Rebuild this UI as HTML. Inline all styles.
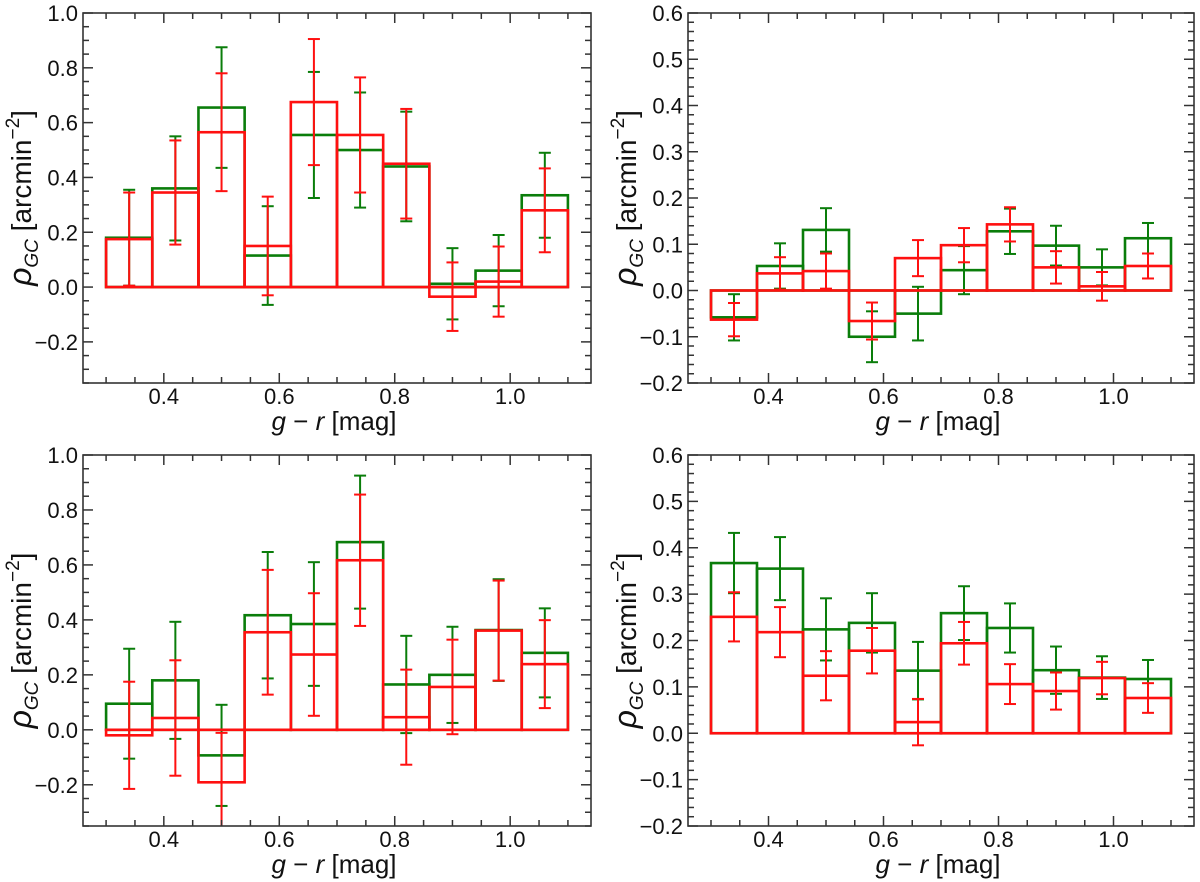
<!DOCTYPE html>
<html><head><meta charset="utf-8">
<style>
html,body{margin:0;padding:0;background:#fff;}
svg{display:block;font-family:"Liberation Sans",sans-serif;}
</style></head>
<body>
<svg id="fig" width="1200" height="882" viewBox="0 0 1200 882" xmlns="http://www.w3.org/2000/svg"></svg>
<script>
// ---- data ----
const binEdges = [0.30,0.38,0.46,0.54,0.62,0.70,0.78,0.86,0.94,1.02,1.10];
const binCenters = [0.34,0.42,0.50,0.58,0.66,0.74,0.82,0.90,0.98,1.06];

const tlGreen = [0.18,0.36,0.655,0.115,0.555,0.50,0.44,0.012,0.06,0.335];
const tlGreenErr = [0.175,0.19,0.22,0.18,0.23,0.21,0.20,0.13,0.13,0.155];
const tlRed = [0.175,0.345,0.565,0.15,0.675,0.555,0.45,-0.035,0.02,0.28];
const tlRedErr = [0.17,0.19,0.215,0.18,0.23,0.21,0.20,0.125,0.128,0.153];

const trGreen = [-0.058,0.053,0.131,-0.10,-0.05,0.044,0.128,0.097,0.05,0.113];
const trGreenErr = [0.05,0.049,0.047,0.055,0.058,0.052,0.049,0.043,0.039,0.033];
const trRed = [-0.063,0.037,0.042,-0.066,0.07,0.098,0.143,0.05,0.009,0.053];
const trRedErr = [0.036,0.035,0.038,0.04,0.039,0.037,0.037,0.035,0.031,0.027];

const blGreen = [0.095,0.18,-0.093,0.417,0.385,0.683,0.165,0.20,0.363,0.28];
const blGreenErr = [0.20,0.213,0.184,0.23,0.225,0.242,0.177,0.175,0.185,0.162];
const blRed = [-0.02,0.043,-0.191,0.355,0.274,0.617,0.046,0.156,0.361,0.239];
const blRedErr = [0.195,0.21,0.18,0.227,0.223,0.239,0.173,0.172,0.182,0.16];

const brGreen = [0.367,0.355,0.224,0.238,0.135,0.259,0.227,0.136,0.12,0.117];
const brGreenErr = [0.065,0.068,0.067,0.064,0.062,0.058,0.053,0.051,0.046,0.041];
const brRed = [0.251,0.218,0.124,0.178,0.024,0.194,0.106,0.091,0.119,0.076];
const brRedErr = [0.053,0.054,0.053,0.049,0.05,0.046,0.043,0.04,0.035,0.032];

const xTickLabels = ["0.4","0.6","0.8","1.0"];
const xTickValues = [0.4,0.6,0.8,1.0];
const yTicksWide = [-0.2,0.0,0.2,0.4,0.6,0.8,1.0];
const yTicksNarrow = [-0.2,-0.1,0.0,0.1,0.2,0.3,0.4,0.5,0.6];

const NS = "http://www.w3.org/2000/svg";
const svg = document.getElementById('fig');
function mk(tag, attrs, parent){
  const e = document.createElementNS(NS, tag);
  for (const k in attrs) e.setAttribute(k, attrs[k]);
  (parent||svg).appendChild(e);
  return e;
}
const GREEN = "#0a7d0a", RED = "#ff1010";

function panel(name, box, ylim, yTicks, yMinorStep, green, greenErr, red, redErr){
  const g = mk('g', {});
  
  
  const xlim = [0.26, 1.14];
  const X = v => box.x0 + (v - xlim[0]) / (xlim[1] - xlim[0]) * (box.x1 - box.x0);
  const Y = v => box.y1 - (v - ylim[0]) / (ylim[1] - ylim[0]) * (box.y1 - box.y0);
  const clip = 'clip-' + name;
  const defs = mk('defs', {}, g);
  const cp = mk('clipPath', {id: clip}, defs);
  mk('rect', {x: box.x0, y: box.y0, width: box.x1 - box.x0, height: box.y1 - box.y0}, cp);
  const plot = mk('g', {'clip-path': 'url(#' + clip + ')'}, g);

  function drawSeries(vals, errs, color, sname){
    const sg = mk('g', {}, plot);
    
    
    for (let i = 0; i < vals.length; i++){
      const xa = X(binEdges[i]), xb = X(binEdges[i+1]);
      const y0 = Y(0), yv = Y(vals[i]);
      const r = mk('rect', {x: xa, y: Math.min(y0, yv), width: xb - xa, height: Math.abs(y0 - yv),
        fill: 'none', stroke: color, 'stroke-width': 2.6}, sg);
      
      
    }
    for (let i = 0; i < vals.length; i++){
      const cx = X(binCenters[i]);
      const yt = Y(vals[i] + errs[i]), yb = Y(vals[i] - errs[i]);
      const eb = mk('g', {stroke: color, 'stroke-width': 2}, sg);
      
      
      mk('line', {x1: cx, x2: cx, y1: yt, y2: yb}, eb);
      mk('line', {x1: cx - 6, x2: cx + 6, y1: yt, y2: yt}, eb);
      mk('line', {x1: cx - 6, x2: cx + 6, y1: yb, y2: yb}, eb);
    }
  }
  drawSeries(green, greenErr, GREEN, name + '-green');
  drawSeries(red, redErr, RED, name + '-red');

  const fr = mk('rect', {x: box.x0, y: box.y0, width: box.x1 - box.x0, height: box.y1 - box.y0,
    fill: 'none', stroke: '#333', 'stroke-width': 1.6}, g);
  
  

  const tk = mk('g', {stroke: '#333', 'stroke-width': 1.5}, g);
  for (let k = 0; k <= 16; k++){
    const v = 0.30 + k * 0.05;
    const major = xTickValues.some(t => Math.abs(t - v) < 1e-6);
    const L = major ? 10 : 6;
    const x = X(v);
    mk('line', {x1: x, x2: x, y1: box.y1, y2: box.y1 - L}, tk);
    mk('line', {x1: x, x2: x, y1: box.y0, y2: box.y0 + L}, tk);
  }
  const start = Math.ceil(ylim[0] / yMinorStep - 1e-6) * yMinorStep;
  for (let v = start; v <= ylim[1] + 1e-9; v += yMinorStep){
    const major = yTicks.some(t => Math.abs(t - v) < 1e-6);
    const L = major ? 10 : 6;
    const y = Y(v);
    mk('line', {x1: box.x0, x2: box.x0 + L, y1: y, y2: y}, tk);
    mk('line', {x1: box.x1, x2: box.x1 - L, y1: y, y2: y}, tk);
  }
  xTickValues.forEach((v, i) => {
    const t = mk('text', {x: X(v), y: box.y1 + 21, 'text-anchor': 'middle', 'font-size': 22, fill: '#111'}, g);
    t.textContent = xTickLabels[i];
    
    
  });
  yTicks.forEach(v => {
    const t = mk('text', {x: box.x0 - 5, y: Y(v) + 8, 'text-anchor': 'end', 'font-size': 22, fill: '#111'}, g);
    t.textContent = (v < 0 ? '\u2212' : '') + Math.abs(v).toFixed(1);
    
    
  });
  const cx = (box.x0 + box.x1) / 2;
  const xt = mk('text', {x: cx - 3, y: box.y1 + 47, 'text-anchor': 'middle', 'font-size': 26, fill: '#111'}, g);
  xt.innerHTML = '<tspan font-style="italic">g</tspan> \u2212 <tspan font-style="italic">r</tspan> [mag]';
  
  
  const cy = (box.y0 + box.y1) / 2 + 0;
  const yx = box.x0 - 52;
  const yt = mk('text', {x: 0, y: 0, 'text-anchor': 'middle', 'font-size': 28, fill: '#111',
    transform: 'translate(' + yx + ',' + cy + ') rotate(-90)'}, g);
  yt.innerHTML = '<tspan font-style="italic" font-size="32">\u03c1</tspan><tspan font-style="italic" font-size="19" dy="7">GC</tspan><tspan dy="-7"> [arcmin</tspan><tspan font-size="19" dy="-12">\u22122</tspan><tspan dy="12">]</tspan>';
  
  
}

panel('panel-top-left', {x0: 83, x1: 591, y0: 13, y1: 383}, [-0.35, 1.0], yTicksWide, 0.05,
  tlGreen, tlGreenErr, tlRed, tlRedErr);
panel('panel-top-right', {x0: 688, x1: 1194, y0: 13, y1: 383}, [-0.2, 0.6], yTicksNarrow, 0.02,
  trGreen, trGreenErr, trRed, trRedErr);
panel('panel-bottom-left', {x0: 83, x1: 591, y0: 455, y1: 826}, [-0.35, 1.0], yTicksWide, 0.05,
  blGreen, blGreenErr, blRed, blRedErr);
panel('panel-bottom-right', {x0: 688, x1: 1194, y0: 455, y1: 826}, [-0.2, 0.6], yTicksNarrow, 0.02,
  brGreen, brGreenErr, brRed, brRedErr);
</script>
</body></html>
